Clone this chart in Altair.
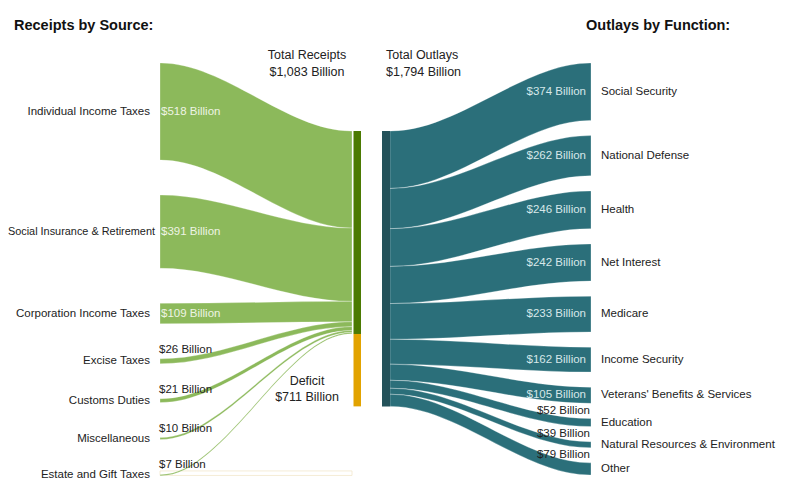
import altair as alt
import pandas as pd

# ---------------- data ----------------
receipt_sources = ["Individual Income Taxes", "Social Insurance & Retirement",
                   "Corporation Income Taxes", "Excise Taxes", "Customs Duties",
                   "Miscellaneous", "Estate and Gift Taxes"]
receipt_values = [518, 391, 109, 26, 21, 10, 7]

outlay_functions = ["Social Security", "National Defense", "Health", "Net Interest",
                    "Medicare", "Income Security", "Veterans' Benefits & Services",
                    "Education", "Natural Resources & Environment", "Other"]
outlay_values = [374, 262, 246, 242, 233, 162, 105, 52, 39, 79]

total_receipts = 1083
total_outlays = 1794
deficit = 711

# ---------------- layout (sankey-style, in page pixel units) ----------------
W, H = 784, 476
LEFT_X0, LEFT_X1 = 160, 352
REC_BAR_X = (353.5, 361)
OUT_BAR_X = (382, 390)
RIGHT_X0, RIGHT_X1 = 390, 591
NODE_TOP = 63
NODE_BOTTOM = 475
BAR_TOP = 131
K_L = 0.1874      # px per billion, receipts side
K_R = 0.1535      # px per billion, outlays side
GAP_L = 35
GAP_R = (NODE_BOTTOM - NODE_TOP - K_R * sum(outlay_values)) / (len(outlay_values) - 1)

LIGHT_GREEN = "#8cb95b"
DARK_GREEN = "#4b7a02"
ORANGE = "#e2a300"
TEAL = "#2b6f7a"
DARK_TEAL = "#24525a"
DARK_TEXT = "#222222"
FONT = "Liberation Sans"


def fmt(v):
    return f"${v:,} Billion"


# flows
left_rows, right_rows = [], []
left_names, left_vals = [], []
cum = 0
for i, (name, v) in enumerate(zip(receipt_sources, receipt_values)):
    h = K_L * v
    s_top = NODE_TOP + K_L * cum + GAP_L * i
    t_top = BAR_TOP + K_L * cum
    for x, y in [(LEFT_X0, s_top), (LEFT_X0 + 1, s_top), (LEFT_X1 - 1, t_top), (LEFT_X1, t_top)]:
        left_rows.append(dict(flow=name, x=x, y=y, y2=y + h))
    long_label = len(name) > 25
    left_names.append(dict(label=name, x=155 if long_label else 150, y=s_top + h / 2,
                           s=10.9 if long_label else 11.5))
    if v >= 100:
        left_vals.append(dict(label=fmt(v), x=161, y=s_top + h / 2, c="#eef4e4"))
    else:
        left_vals.append(dict(label=fmt(v), x=159, y=s_top - 9, c=DARK_TEXT))
    cum += v
estate_top = left_rows[-4]["y"]

right_names, right_vals = [], []
cum = 0
for i, (name, v) in enumerate(zip(outlay_functions, outlay_values)):
    h = K_R * v
    s_top = BAR_TOP + K_R * cum
    t_top = NODE_TOP + K_R * cum + GAP_R * i
    for x, y in [(RIGHT_X0, s_top), (RIGHT_X0 + 1, s_top), (RIGHT_X1 - 1, t_top), (RIGHT_X1, t_top)]:
        right_rows.append(dict(flow=name, x=x, y=y, y2=y + h))
    right_names.append(dict(label=name, x=601, y=t_top + h / 2))
    if v >= 100:
        right_vals.append(dict(label=fmt(v), x=586, y=t_top + h / 2, c="#d6e7e9"))
    else:
        right_vals.append(dict(label=fmt(v), x=590, y=t_top - 8, c=DARK_TEXT))
    cum += v

rec_bottom = BAR_TOP + K_L * total_receipts
out_bottom = BAR_TOP + K_R * total_outlays
bars = pd.DataFrame([
    dict(x=REC_BAR_X[0], x2=REC_BAR_X[1], y=BAR_TOP, y2=rec_bottom, c=DARK_GREEN),
    dict(x=REC_BAR_X[0], x2=REC_BAR_X[1], y=rec_bottom, y2=out_bottom, c=ORANGE),
    dict(x=OUT_BAR_X[0], x2=OUT_BAR_X[1], y=BAR_TOP, y2=out_bottom, c=DARK_TEAL),
])
faint = pd.DataFrame([dict(x=LEFT_X0, x2=LEFT_X1, y=estate_top - 3.5, y2=estate_top + 1)])

xs = alt.Scale(domain=[8, 8 + W], nice=False, zero=False)
ys = alt.Scale(domain=[8, 8 + H], nice=False, zero=False, reverse=True)
X = lambda f: alt.X(f, scale=xs, axis=None)
Y = lambda f: alt.Y(f, scale=ys, axis=None, stack=None)

left_flows = alt.Chart(pd.DataFrame(left_rows)).mark_area(
    interpolate="monotone", color=LIGHT_GREEN, stroke="white", strokeWidth=0.35, strokeOpacity=0.8
).encode(x=X("x:Q"), y=Y("y:Q"), y2="y2:Q", detail="flow:N")

right_flows = alt.Chart(pd.DataFrame(right_rows)).mark_area(
    interpolate="monotone", color=TEAL, stroke="white", strokeWidth=0.4, strokeOpacity=0.7
).encode(x=X("x:Q"), y=Y("y:Q"), y2="y2:Q", detail="flow:N")

bar_layer = alt.Chart(bars).mark_rect().encode(
    x=X("x:Q"), x2="x2:Q", y=Y("y:Q"), y2="y2:Q", color=alt.Color("c:N", scale=None))

faint_layer = alt.Chart(faint).mark_rect(
    fill="white", stroke="#f3e7cb", strokeWidth=0.8).encode(
    x=X("x:Q"), x2="x2:Q", y=Y("y:Q"), y2="y2:Q")


def text_layer(rows, align, size=11.5, weight="normal", color=None, size_field=False):
    df = pd.DataFrame(rows)
    m = alt.Chart(df).mark_text(align=align, baseline="middle", font=FONT,
                                fontSize=size, fontWeight=weight,
                                **({"color": color} if color else {}))
    enc = dict(x=X("x:Q"), y=Y("y:Q"), text="label:N")
    if color is None:
        enc["color"] = alt.Color("c:N", scale=None)
    if size_field:
        enc["size"] = alt.Size("s:Q", scale=None)
    return m.encode(**enc)


left_name_layer = text_layer(left_names, "right", color=DARK_TEXT, size_field=True)
left_val_layer = text_layer(left_vals, "left")
right_name_layer = text_layer(right_names, "left", color=DARK_TEXT)
right_val_layer = text_layer(right_vals, "right")

titles = text_layer([dict(label="Receipts by Source:", x=14, y=26),
                     dict(label="Outlays by Function:", x=586, y=26)],
                    "left", size=14.5, weight="bold", color="#111111")
centered = text_layer([dict(label="Total Receipts", x=307, y=55),
                       dict(label=fmt(total_receipts), x=307, y=72),
                       dict(label="Deficit", x=307, y=381),
                       dict(label=fmt(deficit), x=307, y=397)],
                      "center", size=12.5, color=DARK_TEXT)
outl = text_layer([dict(label="Total Outlays", x=386, y=55),
                   dict(label=fmt(total_outlays), x=386, y=72)],
                  "left", size=12.5, color=DARK_TEXT)

chart = alt.layer(
    faint_layer, left_flows, right_flows, bar_layer,
    left_name_layer, left_val_layer, right_name_layer, right_val_layer,
    titles, centered, outl
).properties(
    width=W, height=H, padding=0, autosize=alt.AutoSizeParams(type="none")
).configure_view(stroke=None)

chart.save("out.html", embed_options={"renderer": "svg", "actions": False})
